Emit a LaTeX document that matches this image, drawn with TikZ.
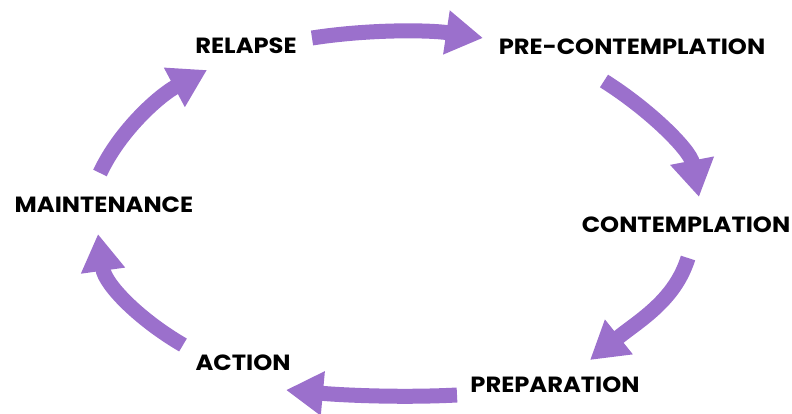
\documentclass[tikz,border=0pt]{standalone}
\usepackage{fontspec}
\setmainfont{Poppins}[FakeStretch=1.1]
\usepackage[HTML]{xcolor}
\usepackage{tikz}
\usetikzlibrary{positioning, arrows, arrows.meta}
\usetikzlibrary{calc}
\definecolor{cyclepurple}{HTML}{9B70CC}

\begin{document}
\begin{tikzpicture}[x=1pt, y=-1pt,
  stage/.style={font=\fontsize{22}{25}\selectfont\bfseries, inner sep=0pt},
  flow/.style={draw=cyclepurple, line width=15pt, -{Triangle[width=42pt, length=37pt]}}]
\useasboundingbox (0,0) rectangle (792,414);
% stages
\node[stage] (relapse) at (246,46) {RELAPSE};
\node[stage] (precont) at (632,47) {PRE-CONTEMPLATION};
\node[stage] (cont) at (686,225) {CONTEMPLATION};
\node[stage] (prep) at (555,385) {PREPARATION};
\node[stage] (action) at (243,363) {ACTION};
\node[stage] (maint) at (104,205) {MAINTENANCE};
% arrow ends
\coordinate (t1) at (312,38);  \coordinate (h1) at (483,38);
\coordinate (t2) at (604,81);  \coordinate (h2) at (699,197);
\coordinate (t3) at (688,258); \coordinate (h3) at (590,360);
\coordinate (t4) at (457,395); \coordinate (h4) at (286,390);
\coordinate (t5) at (183,345); \coordinate (h5) at (98,234);
\coordinate (t6) at (100,173); \coordinate (h6) at (207,70);
% arrows
\draw[flow] (t1) .. controls (370,29) and (430,30) .. (h1);
\draw[flow] (t2) .. controls (650,110) and (690,150) .. (h2);
\draw[flow] (t3) .. controls (675,300) and (640,320) .. (h3);
\draw[flow] (t4) .. controls (400,398) and (340,395) .. (h4);
\draw[flow] (t5) .. controls (140,320) and (105,285) .. (h5);
\draw[flow] (t6) .. controls (120,130) and (160,95) .. (h6);
\end{tikzpicture}
\end{document}
